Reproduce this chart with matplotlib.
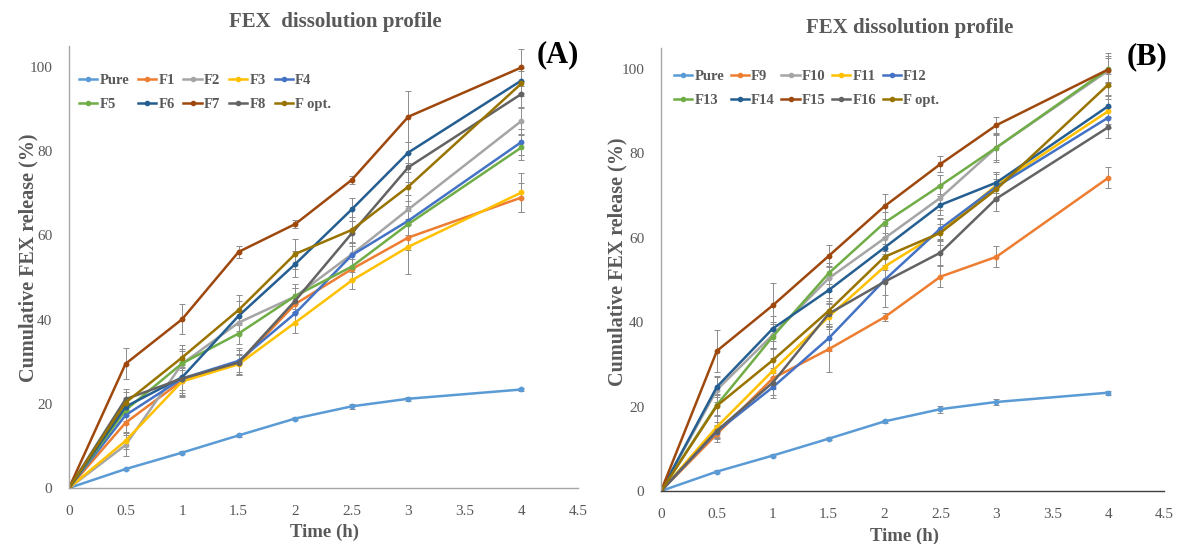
import matplotlib
matplotlib.use("Agg")
import matplotlib.pyplot as plt
from matplotlib.lines import Line2D

plt.rcParams['font.family'] = ['Liberation Serif', 'DejaVu Serif']

time_h = [0, 0.5, 1, 1.5, 2, 2.5, 3, 4]

# Panel A series
names_a = ["Pure", "F1", "F2", "F3", "F4", "F5", "F6", "F7", "F8", "F opt."]
pure_a = [0, 4.5, 8.4, 12.5, 16.5, 19.4, 21.2, 23.4]
f1 = [0, 15.5, 25.5, 29.6, 43.7, 52.0, 59.5, 69.0]
f2 = [0, 10.2, 29.5, 39.3, 45.5, 55.5, 66.2, 87.2]
f3 = [0, 11.2, 25.3, 29.4, 39.3, 49.3, 57.3, 70.2]
f4 = [0, 17.3, 26.0, 30.2, 41.5, 55.3, 63.5, 82.2]
f5 = [0, 18.5, 29.6, 36.7, 45.6, 52.6, 62.7, 80.9]
f6 = [0, 19.3, 26.3, 40.9, 53.2, 66.2, 79.7, 96.8]
f7 = [0, 29.5, 40.1, 56.1, 62.7, 73.2, 88.2, 99.9]
f8 = [0, 21.1, 26.0, 29.8, 44.5, 60.5, 76.2, 93.6]
fopt_a = [0, 20.3, 31.0, 42.3, 55.6, 61.3, 71.6, 96.1]

err_pure_a = [0, 0.3, 0.3, 0.4, 0.4, 0.6, 0.5, 0.4]
err_f1 = [0, 2.5, 3.0, 2.0, 2.0, 2.5, 3.0, 3.4]
err_f2 = [0, 2.5, 3.0, 2.5, 3.0, 3.0, 3.5, 3.0]
err_f3 = [0, 2.0, 3.5, 2.5, 2.5, 2.0, 6.5, 4.6]
err_f4 = [0, 2.0, 4.5, 3.0, 2.5, 3.0, 3.5, 3.0]
err_f5 = [0, 2.5, 3.5, 2.5, 2.0, 3.0, 3.0, 3.0]
err_f6 = [0, 2.0, 3.0, 3.5, 3.0, 2.7, 2.6, 3.0]
err_f7 = [0, 3.7, 3.6, 1.5, 1.0, 1.0, 6.0, 4.5]
err_f8 = [0, 2.5, 4.0, 3.0, 3.0, 3.0, 3.5, 3.0]
err_fopt_a = [0, 2.5, 3.0, 3.5, 3.5, 3.0, 3.5, 3.0]

# Panel B series
names_b = ["Pure", "F9", "F10", "F11", "F12", "F13", "F14", "F15", "F16", "F opt."]
pure_b = [0, 4.6, 8.4, 12.4, 16.5, 19.4, 21.1, 23.3]
f9 = [0, 13.5, 26.7, 33.6, 41.2, 50.8, 55.5, 74.2]
f10 = [0, 24.0, 37.0, 50.4, 59.9, 69.5, 81.4, 99.6]
f11 = [0, 15.2, 28.5, 41.3, 53.2, 61.4, 72.5, 90.0]
f12 = [0, 14.1, 24.6, 36.2, 50.0, 62.2, 72.1, 88.5]
f13 = [0, 20.4, 36.6, 51.6, 63.6, 72.4, 81.4, 100.0]
f14 = [0, 24.7, 38.5, 47.6, 57.7, 67.8, 73.1, 91.2]
f15 = [0, 33.2, 44.0, 55.7, 67.5, 77.5, 86.7, 99.9]
f16 = [0, 14.3, 25.7, 42.0, 49.6, 56.5, 69.3, 86.2]
fopt_b = [0, 20.2, 31.0, 42.7, 55.5, 61.2, 71.5, 96.3]

err_pure_b = [0, 0.3, 0.3, 0.3, 0.4, 0.8, 0.8, 0.5]
err_f9 = [0, 2.0, 2.5, 5.3, 1.0, 2.5, 2.5, 2.5]
err_f10 = [0, 3.0, 3.0, 3.0, 3.0, 3.0, 3.5, 3.0]
err_f11 = [0, 2.5, 3.0, 3.0, 3.0, 3.0, 3.0, 3.0]
err_f12 = [0, 1.5, 2.5, 3.0, 3.5, 2.5, 3.0, 2.5]
err_f13 = [0, 2.5, 3.0, 2.5, 2.5, 2.5, 3.0, 3.0]
err_f14 = [0, 2.5, 3.0, 3.0, 2.5, 2.5, 2.5, 2.5]
err_f15 = [0, 5.0, 5.4, 2.5, 3.0, 2.0, 2.0, 4.0]
err_f16 = [0, 2.0, 3.0, 3.0, 6.0, 3.0, 3.0, 2.5]
err_fopt_b = [0, 2.5, 3.0, 3.0, 3.0, 2.0, 2.5, 2.5]

colors = ["#5B9BD5", "#ED7D31", "#A5A5A5", "#FFC000", "#4472C4",
          "#70AD47", "#255E91", "#9E480E", "#636363", "#997300"]

x_ticks = [0, 0.5, 1, 1.5, 2, 2.5, 3, 3.5, 4, 4.5]
x_tick_labels = ["0", "0.5", "1", "1.5", "2", "2.5", "3", "3.5", "4", "4.5"]
y_ticks = [0, 20, 40, 60, 80, 100]

series_a = [pure_a, f1, f2, f3, f4, f5, f6, f7, f8, fopt_a]
errs_a = [err_pure_a, err_f1, err_f2, err_f3, err_f4, err_f5, err_f6, err_f7, err_f8, err_fopt_a]
series_b = [pure_b, f9, f10, f11, f12, f13, f14, f15, f16, fopt_b]
errs_b = [err_pure_b, err_f9, err_f10, err_f11, err_f12, err_f13, err_f14, err_f15, err_f16, err_fopt_b]

W, H = 1179, 544
fig = plt.figure(figsize=(W / 100, H / 100), dpi=100)

TXT = "#595959"


def fx(px):
    return px / W


def fy(py):
    return 1 - py / H


def panel(rect, names, series, errs, bottom_color, leg_anchor, colsp):
    ax = fig.add_axes(rect)
    for ys, es in zip(series, errs):
        ax.errorbar(time_h, ys, yerr=es, fmt='none', ecolor='#8C8C8C',
                    elinewidth=0.7, capsize=2, capthick=0.7, zorder=1)
    for name, ys, c in zip(names, series, colors):
        ax.plot(time_h, ys, color=c, lw=1.8, marker='o', markersize=4.2,
                markeredgewidth=0, label=name, zorder=2)
    ax.set_xlim(0, 4.5)
    ax.set_ylim(0, 105)
    ax.set_xticks(x_ticks)
    ax.set_xticklabels(x_tick_labels)
    ax.set_yticks(y_ticks)
    ax.tick_params(axis='both', length=0, labelsize=11, colors=TXT)
    ax.tick_params(axis='x', pad=12)
    ax.tick_params(axis='y', pad=12)
    for s in ['top', 'right']:
        ax.spines[s].set_visible(False)
    ax.spines['left'].set_color('#A6A6A6')
    ax.spines['left'].set_linewidth(1.0)
    ax.spines['bottom'].set_color(bottom_color)
    ax.spines['bottom'].set_linewidth(1.0)
    ax.patch.set_alpha(0)
    handles = [Line2D([0], [0], color=c, lw=1.8, marker='o', markersize=4,
                      markeredgewidth=0) for c in colors]
    order = [0, 5, 1, 6, 2, 7, 3, 8, 4, 9]
    leg = ax.legend([handles[i] for i in order], [names[i] for i in order],
                    ncol=5, loc='upper left', bbox_to_anchor=leg_anchor,
                    bbox_transform=fig.transFigure,
                    frameon=False, handlelength=1.25, handletextpad=0.15,
                    columnspacing=colsp, labelspacing=0.75, borderpad=0, borderaxespad=0,
                    prop={'family': 'Liberation Serif', 'weight': 'bold', 'size': 10.5})
    for t in leg.get_texts():
        t.set_color(TXT)
    return ax


axA = panel([fx(69), fy(488), fx(578) - fx(69), (488 - 46) / H],
            names_a, series_a, errs_a, '#A6A6A6', (fx(79), fy(74)), 0.6)
axB = panel([fx(661), fy(491), fx(1164) - fx(661), (491 - 48) / H],
            names_b, series_b, errs_b, '#404040', (fx(674), fy(70)), 0.45)

title_kw = dict(ha='center', va='center', color=TXT, fontsize=15, fontweight='bold')
fig.text(fx(335), fy(22), "FEX  dissolution profile", **title_kw)
fig.text(fx(910), fy(28), "FEX dissolution profile", **title_kw)

lab_kw = dict(ha='center', va='center', color=TXT, fontweight='bold')
fig.text(fx(325), fy(532), "Time (h)", fontsize=13.5, **lab_kw)
fig.text(fx(905), fy(536), "Time (h)", fontsize=13.5, **lab_kw)
fig.text(fx(28), fy(258), "Cumulative FEX release (%)", rotation=90, fontsize=14.5, **lab_kw)
fig.text(fx(617), fy(262), "Cumulative FEX release (%)", rotation=90, fontsize=14.5, **lab_kw)

fig.text(fx(558), fy(55), "(A)", ha='center', va='center', fontsize=22,
         fontweight='bold', color='black')
fig.text(fx(1147), fy(57), "(B)", ha='center', va='center', fontsize=22,
         fontweight='bold', color='black')

fig.savefig("out.png", dpi=100, facecolor='white')
